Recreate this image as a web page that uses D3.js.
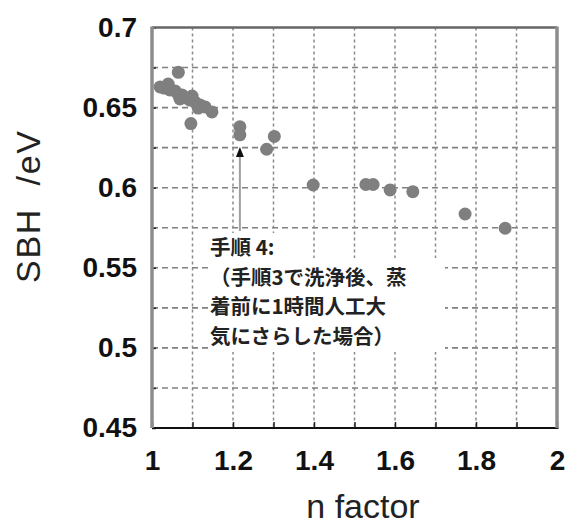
<!DOCTYPE html>
<html>
<head>
<meta charset="utf-8">
<script src="https://cdn.jsdelivr.net/npm/d3@7"></script>
<style>
  body { margin: 0; background: #fff; }
  svg { display: block; }
</style>
</head>
<body>
<div id="chart"></div>
<script>
// data
const nFactor = [1.020, 1.030, 1.040, 1.044, 1.057, 1.064, 1.069, 1.074, 1.084, 1.094, 1.099,
                 1.106, 1.114, 1.119, 1.131, 1.148, 1.065, 1.096,
                 1.217, 1.217, 1.283, 1.302,
                 1.398, 1.528, 1.546, 1.588, 1.644, 1.773, 1.872]
const sbh = [0.6629, 0.6622, 0.6647, 0.6610, 0.6604, 0.6585, 0.6554, 0.6579, 0.6560, 0.6547, 0.6572,
             0.6535, 0.6497, 0.6516, 0.6504, 0.6473, 0.6720, 0.6400,
             0.6380, 0.6330, 0.6240, 0.6320,
             0.6017, 0.6020, 0.6020, 0.5986, 0.5975, 0.5836, 0.5747]
const xTicks = [1, 1.1, 1.2, 1.3, 1.4, 1.5, 1.6, 1.7, 1.8, 1.9, 2]
const xLabels = [1, 1.2, 1.4, 1.6, 1.8, 2]
const yTicks = [0.45, 0.475, 0.5, 0.525, 0.55, 0.575, 0.6, 0.625, 0.65, 0.675, 0.7]
const yLabels = [0.45, 0.5, 0.55, 0.6, 0.65, 0.7]
const noteLines = ['手順 4:', '（手順3で洗浄後、蒸', '着前に1時間人工大', '気にさらした場合）']
const arrowAt = {n: 1.217, v: 0.6235}

const points = nFactor.map((n, i) => ({n: n, v: sbh[i]}))

var chart_width  = 567;
var chart_height = 524;
// plot box (note: "top" is reserved on window, so use a prefix)
var pLeft = 152, pRight = 557, pTop = 27.5, pBottom = 428;

var svg = d3.select('#chart')
    .append('svg')
    .attr('width', chart_width)
    .attr('height', chart_height)
    .style('background', '#fff');

const x_scale = d3.scaleLinear().domain([1, 2]).range([pLeft, pRight])
const y_scale = d3.scaleLinear().domain([0.45, 0.7]).range([pBottom, pTop])

// grid
svg.append('g').selectAll('line')
    .data(yTicks.filter(d => d > 0.45 && d < 0.7))
    .enter().append('line')
    .attr('x1', pLeft).attr('x2', pRight)
    .attr('y1', d => y_scale(d)).attr('y2', d => y_scale(d))
    .attr('stroke', '#808080').attr('stroke-width', 1.6)
    .attr('stroke-dasharray', '6,4')

svg.append('g').selectAll('line')
    .data(xTicks.filter(d => d > 1 && d < 2))
    .enter().append('line')
    .attr('y1', pTop).attr('y2', pBottom)
    .attr('x1', d => x_scale(d)).attr('x2', d => x_scale(d))
    .attr('stroke', '#8a8a8a').attr('stroke-width', 1.5)
    .attr('stroke-dasharray', '3,3')

// white box behind the note
const noteX = 210, noteY = 248, noteStep = 29.5
svg.append('rect').attr('x', noteX - 5).attr('y', 233).attr('width', 75).attr('height', 27).attr('fill', '#fff')
svg.append('rect').attr('x', noteX + 2).attr('y', 258).attr('width', 233).attr('height', 94).attr('fill', '#fff')

// axes (ticks point inward)
const yAxis = d3.axisLeft(y_scale)
    .tickValues(yTicks)
    .tickSize(-4)
    .tickPadding(15)
    .tickFormat(d => yLabels.some(l => Math.abs(l - d) < 1e-6) ? d3.format('')(+d.toFixed(3)) : '')
const gy = svg.append('g').attr('transform', `translate(${pLeft},0)`).call(yAxis)

const xAxis = d3.axisBottom(x_scale)
    .tickValues(xTicks)
    .tickSize(-6)
    .tickPadding(22)
    .tickFormat(d => xLabels.some(l => Math.abs(l - d) < 1e-6) ? d3.format('')(+d.toFixed(1)) : '')
const gx = svg.append('g').attr('transform', `translate(0,${pBottom})`).call(xAxis)

;[gx, gy].forEach(g => {
    g.select('.domain').remove()
    g.selectAll('line').attr('stroke', '#222').attr('stroke-width', 1.5)
    g.selectAll('text')
        .attr('font-family', '"Liberation Sans", Arial, sans-serif')
        .attr('font-size', 28)
        .attr('font-weight', 'bold')
        .attr('fill', '#111')
})

// frame
svg.append('line').attr('x1', pLeft).attr('x2', pRight).attr('y1', pTop).attr('y2', pTop)
    .attr('stroke', '#666').attr('stroke-width', 2.5)
svg.append('line').attr('x1', pLeft).attr('x2', pRight + 1.5).attr('y1', pBottom).attr('y2', pBottom)
    .attr('stroke', '#111').attr('stroke-width', 2)
svg.append('line').attr('x1', pLeft).attr('x2', pLeft).attr('y1', pTop - 1).attr('y2', pBottom)
    .attr('stroke', '#8c8c8c').attr('stroke-width', 3.5)
svg.append('line').attr('x1', pRight).attr('x2', pRight).attr('y1', pTop - 1).attr('y2', pBottom)
    .attr('stroke', '#8c8c8c').attr('stroke-width', 3.5)

// points
svg.append('g').selectAll('circle')
    .data(points)
    .enter().append('circle')
    .attr('cx', d => x_scale(d.n))
    .attr('cy', d => y_scale(d.v))
    .attr('r', 6.5)
    .attr('fill', '#7f7f7f')

// arrow
const ax = x_scale(arrowAt.n), ay = y_scale(arrowAt.v)
svg.append('line').attr('x1', ax).attr('x2', ax).attr('y1', 231).attr('y2', ay + 6)
    .attr('stroke', '#a0a0a0').attr('stroke-width', 2)
svg.append('path')
    .attr('d', `M${ax},${ay - 3} L${ax - 4},${ay + 7} L${ax + 4},${ay + 7} Z`)
    .attr('fill', '#111')

// note text
svg.append('g').selectAll('text')
    .data(noteLines)
    .enter().append('text')
    .attr('x', noteX)
    .attr('y', (d, i) => noteY + i * noteStep)
    .attr('dy', '0.35em')
    .attr('font-family', '"Noto Sans CJK JP", sans-serif')
    .attr('font-size', 20.5)
    .attr('font-weight', 'bold')
    .attr('fill', '#222')
    .text(d => d)

// axis titles
svg.append('text')
    .attr('transform', `translate(40,207) rotate(-90)`)
    .attr('text-anchor', 'middle')
    .attr('font-family', '"Liberation Sans", Arial, sans-serif')
    .attr('font-size', 34)
    .attr('fill', '#222')
    .attr('xml:space', 'preserve')
    .attr('textLength', 152)
    .attr('lengthAdjust', 'spacing')
    .text('SBH  /eV')

svg.append('text')
    .attr('x', 363).attr('y', 518)
    .attr('text-anchor', 'middle')
    .attr('font-family', '"Liberation Sans", Arial, sans-serif')
    .attr('font-size', 34)
    .attr('fill', '#222')
    .text('n factor')
</script>
</body>
</html>
